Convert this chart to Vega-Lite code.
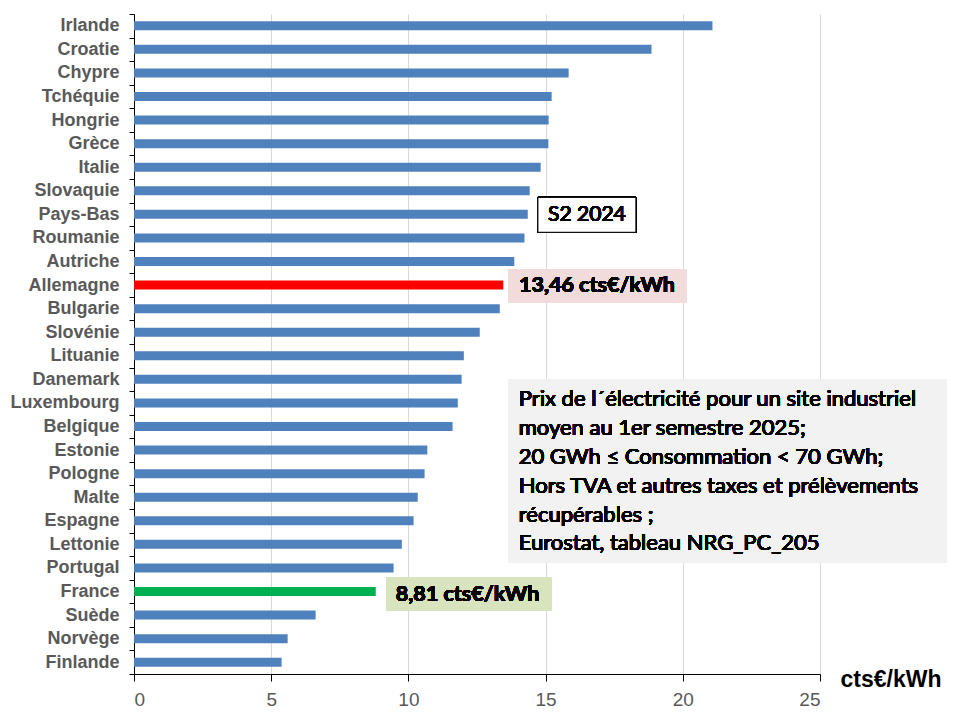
{
  "$schema": "https://vega.github.io/schema/vega-lite/v6.json",
  "width": 686,
  "height": 660,
  "autosize": {"type": "none"},
  "padding": {"left": 134, "top": 14, "right": 140, "bottom": 46},
  "background": "white",
  "config": {"view": {"stroke": null}},
  "data": {"values": [
    {"pays": "Irlande", "prix": 21.08},
    {"pays": "Croatie", "prix": 18.86},
    {"pays": "Chypre", "prix": 15.84},
    {"pays": "Tchéquie", "prix": 15.22},
    {"pays": "Hongrie", "prix": 15.11},
    {"pays": "Grèce", "prix": 15.1},
    {"pays": "Italie", "prix": 14.82},
    {"pays": "Slovaquie", "prix": 14.42},
    {"pays": "Pays-Bas", "prix": 14.35},
    {"pays": "Roumanie", "prix": 14.23},
    {"pays": "Autriche", "prix": 13.86},
    {"pays": "Allemagne", "prix": 13.46},
    {"pays": "Bulgarie", "prix": 13.33},
    {"pays": "Slovénie", "prix": 12.6},
    {"pays": "Lituanie", "prix": 12.02},
    {"pays": "Danemark", "prix": 11.94},
    {"pays": "Luxembourg", "prix": 11.8},
    {"pays": "Belgique", "prix": 11.61},
    {"pays": "Estonie", "prix": 10.69},
    {"pays": "Pologne", "prix": 10.59},
    {"pays": "Malte", "prix": 10.34},
    {"pays": "Espagne", "prix": 10.19},
    {"pays": "Lettonie", "prix": 9.76},
    {"pays": "Portugal", "prix": 9.46},
    {"pays": "France", "prix": 8.81},
    {"pays": "Suède", "prix": 6.62},
    {"pays": "Norvège", "prix": 5.6},
    {"pays": "Finlande", "prix": 5.38}
  ]},
  "resolve": {"scale": {"y": "independent"}, "axis": {"y": "independent"}},
  "layer": [
    {
      "mark": {"type": "bar", "size": 9},
      "encoding": {
        "y": {
          "field": "pays", "type": "nominal",
          "sort": {"field": "prix", "order": "descending"},
          "scale": {"paddingInner": 0, "paddingOuter": 0},
          "axis": {
            "title": null, "tickBand": "extent", "tickSize": 5, "tickColor": "black",
            "domainColor": "black", "labelFont": "Liberation Sans", "labelFontSize": 18,
            "labelFontWeight": "bold", "labelColor": "#595959", "labelPadding": 10, "grid": false
          }
        },
        "x": {
          "field": "prix", "type": "quantitative",
          "scale": {"domain": [0, 25], "nice": false},
          "axis": {
            "values": [0, 5, 10, 15, 20, 25], "grid": true, "gridColor": "#d9d9d9",
            "tickSize": 7, "tickColor": "black", "domainColor": "black",
            "labelFont": "Liberation Sans", "labelFontSize": 19, "labelColor": "#595959",
            "labelPadding": 9,
            "title": "cts€/kWh", "titleFont": "Liberation Sans", "titleFontSize": 23,
            "titleFontWeight": "bold", "titleColor": "black", "titleAlign": "left",
            "titleAnchor": "start", "titleX": 706, "titleY": 5, "titleBaseline": "middle"
          }
        },
        "color": {
          "condition": [
            {"test": "datum.pays === 'Allemagne'", "value": "#ff0000"},
            {"test": "datum.pays === 'France'", "value": "#00b050"}
          ],
          "value": "#4f81bd"
        }
      }
    },
    {
      "mark": {"type": "rect", "fill": "white", "stroke": "black", "strokeWidth": 1},
      "encoding": {
        "x": {"datum": 14.72, "type": "quantitative"},
        "x2": {"datum": 18.29},
        "y": {"datum": 7.78, "type": "quantitative", "scale": {"domain": [0, 28], "reverse": true, "nice": false, "zero": false}, "axis": null},
        "y2": {"datum": 9.26}
      }
    },
    {
      "mark": {"type": "text", "text": "S2 2024", "font": "Lato", "fontSize": 21, "fontWeight": "normal", "align": "left", "baseline": "middle", "fill": "black"},
      "encoding": {
        "x": {"datum": 15.09, "type": "quantitative"},
        "y": {"datum": 8.53, "type": "quantitative", "scale": {"domain": [0, 28], "reverse": true, "nice": false, "zero": false}, "axis": null}
      }
    },
    {
      "mark": {"type": "rect", "fill": "#f2dcdb"},
      "encoding": {
        "x": {"datum": 13.65, "type": "quantitative"},
        "x2": {"datum": 20.13},
        "y": {"datum": 10.82, "type": "quantitative", "scale": {"domain": [0, 28], "reverse": true, "nice": false, "zero": false}, "axis": null},
        "y2": {"datum": 12.25}
      }
    },
    {
      "mark": {"type": "text", "text": "13,46 cts€/kWh", "font": "Lato", "fontSize": 21.5, "fontWeight": "bold", "align": "left", "baseline": "middle", "fill": "black"},
      "encoding": {
        "x": {"datum": 14.03, "type": "quantitative"},
        "y": {"datum": 11.53, "type": "quantitative", "scale": {"domain": [0, 28], "reverse": true, "nice": false, "zero": false}, "axis": null}
      }
    },
    {
      "mark": {"type": "rect", "fill": "#d7e4bd"},
      "encoding": {
        "x": {"datum": 9.2, "type": "quantitative"},
        "x2": {"datum": 15.21},
        "y": {"datum": 23.9, "type": "quantitative", "scale": {"domain": [0, 28], "reverse": true, "nice": false, "zero": false}, "axis": null},
        "y2": {"datum": 25.32}
      }
    },
    {
      "mark": {"type": "text", "text": "8,81 cts€/kWh", "font": "Lato", "fontSize": 21.5, "fontWeight": "bold", "align": "left", "baseline": "middle", "fill": "black"},
      "encoding": {
        "x": {"datum": 9.54, "type": "quantitative"},
        "y": {"datum": 24.65, "type": "quantitative", "scale": {"domain": [0, 28], "reverse": true, "nice": false, "zero": false}, "axis": null}
      }
    },
    {
      "mark": {"type": "rect", "fill": "#f2f2f2"},
      "encoding": {
        "x": {"datum": 13.65, "type": "quantitative"},
        "x2": {"datum": 29.61},
        "y": {"datum": 15.49, "type": "quantitative", "scale": {"domain": [0, 28], "reverse": true, "nice": false, "zero": false}, "axis": null},
        "y2": {"datum": 23.28}
      }
    },
    {
      "mark": {
        "type": "text",
        "text": [
          "Prix de l´électricité pour un site industriel",
          "moyen au 1er semestre 2025;",
          "20 GWh ≤ Consommation < 70 GWh;",
          "Hors TVA et autres taxes et prélèvements",
          "récupérables ;",
          "Eurostat, tableau NRG_PC_205"
        ],
        "font": "Lato", "fontSize": 22, "fontWeight": "normal", "lineHeight": 28.8, "align": "left", "baseline": "middle", "fill": "black"
      },
      "encoding": {
        "x": {"datum": 14.02, "type": "quantitative"},
        "y": {"datum": 16.35, "type": "quantitative", "scale": {"domain": [0, 28], "reverse": true, "nice": false, "zero": false}, "axis": null}
      }
    }
  ]
}
